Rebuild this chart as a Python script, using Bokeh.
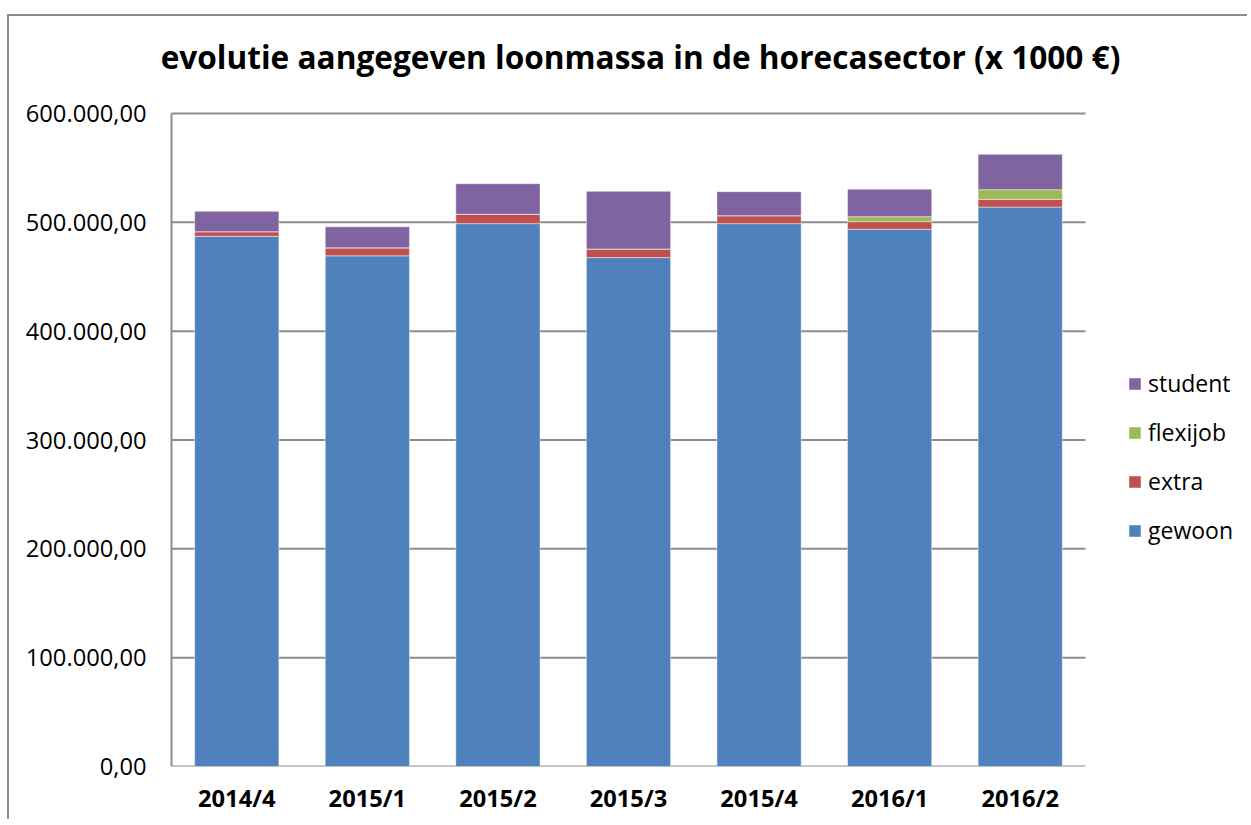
from bokeh.plotting import figure
from bokeh.models import (ColumnDataSource, Legend, LegendItem, Range1d,
                          CustomJSTickFormatter, FixedTicker, Label)
from bokeh.embed import file_html
from bokeh.resources import INLINE

categories = ["2014/4", "2015/1", "2015/2", "2015/3", "2015/4", "2016/1", "2016/2"]
gewoon = [487100, 469200, 498800, 467600, 498800, 493600, 514000]
extra = [4300, 7400, 8600, 7900, 7300, 7000, 7100]
flexijob = [0, 0, 0, 0, 0, 4600, 8900]
student = [18700, 19300, 28100, 53000, 22100, 25300, 32500]
y_ticks = [0, 100000, 200000, 300000, 400000, 500000, 600000]

series = ["gewoon", "extra", "flexijob", "student"]
colors = ["#4F81BD", "#C0504D", "#9BBB59", "#8064A2"]

n = len(categories)
xpos = [i + 0.5 for i in range(n)]
src = ColumnDataSource(dict(x=xpos, cat=categories, gewoon=gewoon, extra=extra,
                            flexijob=flexijob, student=student))

FONT = "Open Sans"
GRID = "#8c8c8c"

# page geometry (canvas origin after css margin + border)
OX, OY = 9, 16
CANVAS_L = 150                       # left edge of the drawing frame
PLOT_L, PLOT_T, PLOT_B, PLOT_R = 171, 113, 766, 1085   # plot area
W, H = 1240, 805
px_per_cat = (PLOT_R - PLOT_L) / n
units_per_px = y_ticks[-1] / (PLOT_B - PLOT_T)
x_min = -(PLOT_L - CANVAS_L) / px_per_cat
x_max = (OX + W - PLOT_L) / px_per_cat
y_max = y_ticks[-1] + (PLOT_T - OY) * units_per_px

p = figure(width=W, height=H, x_range=Range1d(x_min, x_max), y_range=Range1d(0, y_max),
           output_backend="svg", toolbar_location=None,
           min_border_left=CANVAS_L - OX, min_border_right=0, min_border_top=0,
           min_border_bottom=OY + H - PLOT_B)
p.styles = {"margin-left": "7px", "margin-top": "14px",
            "border-left": f"2px solid {GRID}", "border-top": f"2px solid {GRID}"}
p.outline_line_color = None
p.xgrid.grid_line_color = None
p.ygrid.grid_line_color = None

# horizontal grid lines across the category area, and the vertical axis line
p.segment(x0=[0] * len(y_ticks), x1=[n] * len(y_ticks), y0=y_ticks, y1=y_ticks,
          line_color=GRID, line_width=2)
p.segment(x0=[0], x1=[0], y0=[y_ticks[0]], y1=[y_ticks[-1]],
          line_color=GRID, line_width=2)

renderers = p.vbar_stack(series, x="x", width=0.645, source=src, color=colors,
                         line_color="white", line_alpha=0.45, line_width=1)

p.yaxis.ticker = FixedTicker(ticks=y_ticks)
p.yaxis.formatter = CustomJSTickFormatter(code="""
const s = Math.round(tick).toString().replace(/\\B(?=(\\d{3})+(?!\\d))/g, ".");
return s + ",00";
""")
p.xaxis.ticker = FixedTicker(ticks=xpos)
p.xaxis.major_label_overrides = {x: c for x, c in zip(xpos, categories)}

for ax in (p.xaxis[0], p.yaxis[0]):
    ax.axis_line_color = None
    ax.major_tick_line_color = None
    ax.minor_tick_line_color = None
    ax.major_tick_out = 0
    ax.major_tick_in = 0
    ax.major_label_text_font = FONT
    ax.major_label_text_font_size = "23.7px"
    ax.major_label_text_color = "black"
p.yaxis.major_label_standoff = 4
p.xaxis.major_label_standoff = 15
p.xaxis.major_label_text_font_style = "bold"

title = Label(x=(640 - PLOT_L) / px_per_cat, y=(PLOT_B - 56) * units_per_px,
              text="evolutie aangegeven loonmassa in de horecasector (x 1000 €)",
              text_align="center", text_baseline="alphabetic", text_font=FONT,
              text_font_size="31.6px", text_font_style="bold", text_color="black")
p.add_layout(title)

items = [LegendItem(label=s, renderers=[r]) for s, r in zip(series, renderers)][::-1]
legend = Legend(items=items, location=(1127 - CANVAS_L, PLOT_B - 546), margin=0, padding=0,
                border_line_color=None, background_fill_alpha=0,
                glyph_width=15, glyph_height=15, label_height=20, spacing=17,
                label_standoff=6, label_text_font=FONT, label_text_font_size="23px",
                label_text_color="black")
p.add_layout(legend)

open("out.html", "w").write(file_html(p, INLINE))
